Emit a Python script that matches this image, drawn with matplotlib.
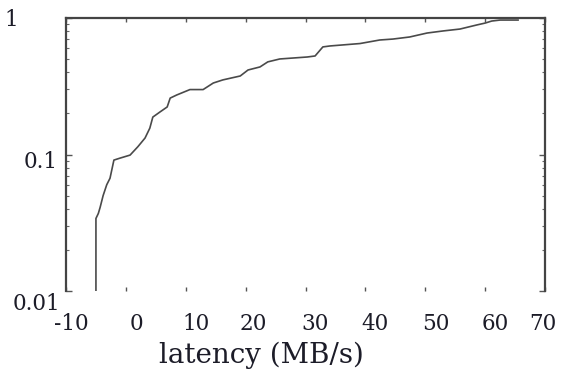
import matplotlib
matplotlib.use("Agg")
import matplotlib.pyplot as plt
import matplotlib.transforms as mtransforms
from matplotlib.ticker import LogLocator, NullFormatter

# CDF of latency
latency = [-5.0, -5.0, -4.6, -4.3, -3.8, -3.2, -2.65, -2.0, -1.0, 0.7, 2.0, 3.2,
           4.0, 4.5, 5.7, 6.9, 7.4, 8.5, 10.7, 12.9, 14.6, 16.2, 19.1, 20.4,
           22.4, 23.7, 25.7, 30.3, 31.6, 32.9, 34.1, 39.1, 42.4, 44.6, 47.4,
           50.3, 53.0, 55.8, 58.6, 60.0, 61.1, 62.5, 65.5]
cdf = [0.01, 0.034, 0.037, 0.041, 0.050, 0.060, 0.067, 0.091, 0.094, 0.099,
       0.114, 0.132, 0.156, 0.188, 0.205, 0.223, 0.259, 0.273, 0.299, 0.299,
       0.334, 0.352, 0.376, 0.416, 0.438, 0.477, 0.501, 0.518, 0.527, 0.614,
       0.624, 0.650, 0.690, 0.701, 0.726, 0.776, 0.804, 0.830, 0.889, 0.918,
       0.950, 0.966, 0.966]

x_ticks = [-10, 0, 10, 20, 30, 40, 50, 60, 70]
x_ticklabels = ["-10", "0", "10", "20", "30", "40", "50", "60", "70"]
y_ticks = [0.01, 0.1, 1]
y_ticklabels = ["0.01", "0.1", "1"]
x_label = "latency (MB/s)"

text_color = "#1c1c28"
font = "DejaVu Serif"

fig = plt.figure(figsize=(5.63, 3.74), dpi=100)
W, H = 563, 374
ax = fig.add_axes([66 / W, 1 - 291 / H, (545 - 66) / W, (291 - 18) / H])

ax.plot(latency, cdf, color="#4a4a4a", lw=1.2)

ax.set_yscale("log")
ax.set_xlim(-10, 70)
ax.set_ylim(0.01, 1)

ax.set_xticks(x_ticks)
ax.set_xticklabels(x_ticklabels)
ax.set_yticks(y_ticks)
ax.set_yticklabels(y_ticklabels)
ax.yaxis.set_minor_locator(LogLocator(base=10, subs=range(2, 10)))
ax.yaxis.set_minor_formatter(NullFormatter())

ax.tick_params(axis="x", which="major", direction="in", top=True, bottom=True,
               length=3, width=1, color="#555555", pad=16, labelsize=15.5,
               labelcolor=text_color)
ax.tick_params(axis="y", which="major", direction="in", left=True, right=True,
               length=4, width=1, color="#555555", pad=6, labelsize=15.5,
               labelcolor=text_color)
ax.tick_params(axis="y", which="minor", direction="in", left=True, right=True,
               length=2.5, width=0.8, color="#666666")

for lab in ax.get_xticklabels() + ax.get_yticklabels():
    lab.set_fontfamily(font)

# individual label offsets (pixels) to mimic reference placement
xoffs = [5, 11, 10, 8, 10, 10, 11, 10, -2]
for lab, dx in zip(ax.get_xticklabels(), xoffs):
    lab.set_transform(lab.get_transform() +
                      mtransforms.ScaledTranslation(dx / 100, 0, fig.dpi_scale_trans))
yoffs = [(3, -11), (0, -5), (-40, 0)]
for lab, (dx, dy) in zip(ax.get_yticklabels(), yoffs):
    lab.set_transform(lab.get_transform() +
                      mtransforms.ScaledTranslation(dx / 100, dy / 100, fig.dpi_scale_trans))

for side in ["left", "right", "top"]:
    ax.spines[side].set_color("#444444")
    ax.spines[side].set_linewidth(1.6)
ax.spines["bottom"].set_visible(False)

ax.set_xlabel(x_label, fontsize=20, family=font, color=text_color, va="center")
ax.xaxis.set_label_coords((261 - 66) / 479, (291 - 355) / 273)

fig.savefig("out.png", dpi=100, facecolor="white")
